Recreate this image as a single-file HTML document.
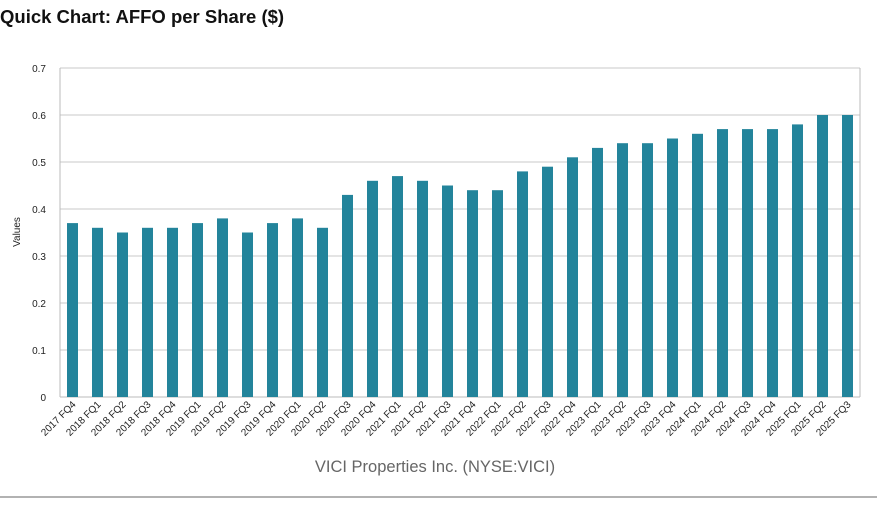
<!DOCTYPE html>
<html><head><meta charset="utf-8"><style>
body{margin:0;background:#fff;width:877px;height:502px;overflow:hidden;font-family:"Liberation Sans",sans-serif}
</style></head><body>
<svg width="877" height="502" xmlns="http://www.w3.org/2000/svg">
<text x="0" y="23" font-size="18.5" font-weight="bold" fill="#111">Quick Chart: AFFO per Share ($)</text>
<g id="grid"></g>
<g id="bars"></g>
<g id="yt"></g>
<g id="xt"></g>
<text x="20" y="232" font-size="10" fill="#222" transform="rotate(-90 20 232)" text-anchor="middle">Values</text>
<text x="435" y="472" font-size="16.5" fill="#666" text-anchor="middle">VICI Properties Inc. (NYSE:VICI)</text>
<line x1="0" y1="497" x2="877" y2="497" stroke="#999" stroke-width="1.5"/>
</svg>
<script>
const categories=["2017 FQ4","2018 FQ1","2018 FQ2","2018 FQ3","2018 FQ4","2019 FQ1","2019 FQ2","2019 FQ3","2019 FQ4","2020 FQ1","2020 FQ2","2020 FQ3","2020 FQ4","2021 FQ1","2021 FQ2","2021 FQ3","2021 FQ4","2022 FQ1","2022 FQ2","2022 FQ3","2022 FQ4","2023 FQ1","2023 FQ2","2023 FQ3","2023 FQ4","2024 FQ1","2024 FQ2","2024 FQ3","2024 FQ4","2025 FQ1","2025 FQ2","2025 FQ3"];
const values=[0.37,0.36,0.35,0.36,0.36,0.37,0.38,0.35,0.37,0.38,0.36,0.43,0.46,0.47,0.46,0.45,0.44,0.44,0.48,0.49,0.51,0.53,0.54,0.54,0.55,0.56,0.57,0.57,0.57,0.58,0.60,0.60];
const yTicks=[0,0.1,0.2,0.3,0.4,0.5,0.6,0.7];
const NS="http://www.w3.org/2000/svg";
const L=60,R=860,T=68,B=397,yMax=0.7;
const y=v=>B-(v/yMax)*(B-T);
const slot=(R-L)/categories.length;
const x=i=>L+slot*(i+0.5);
function mk(t,a,p){const e=document.createElementNS(NS,t);for(const k in a)e.setAttribute(k,a[k]);p.appendChild(e);return e;}
const grid=document.getElementById('grid'),bars=document.getElementById('bars'),yt=document.getElementById('yt'),xt=document.getElementById('xt');
yTicks.forEach(v=>{
 const ln=mk('line',{x1:L,x2:R,y1:y(v),y2:y(v),stroke:'#c8c8c8','stroke-width':1},grid);
 
 
 const t=mk('text',{x:46,y:y(v)+4,'font-size':10,fill:'#222','text-anchor':'end'},yt);
 t.textContent=String(v);
 
 
});
mk('line',{x1:L,x2:L,y1:T,y2:B,stroke:'#bbb'},grid);
mk('line',{x1:R,x2:R,y1:T,y2:B,stroke:'#bbb'},grid);
mk('line',{x1:L,x2:R,y1:B,y2:B,stroke:'#bbb'},grid);
values.forEach((v,i)=>{
 const r=mk('rect',{x:x(i)-5.5,y:y(v),width:11,height:B-y(v),fill:'#23849b'},bars);
 
 
});
categories.forEach((c,i)=>{
 const px=x(i)+4,py=B+8;
 const t=mk('text',{x:px,y:py,'font-size':10,fill:'#222','text-anchor':'end',transform:`rotate(-45 ${px} ${py})`},xt);
 t.textContent=c;
 
 
});
</script>
</body></html>
